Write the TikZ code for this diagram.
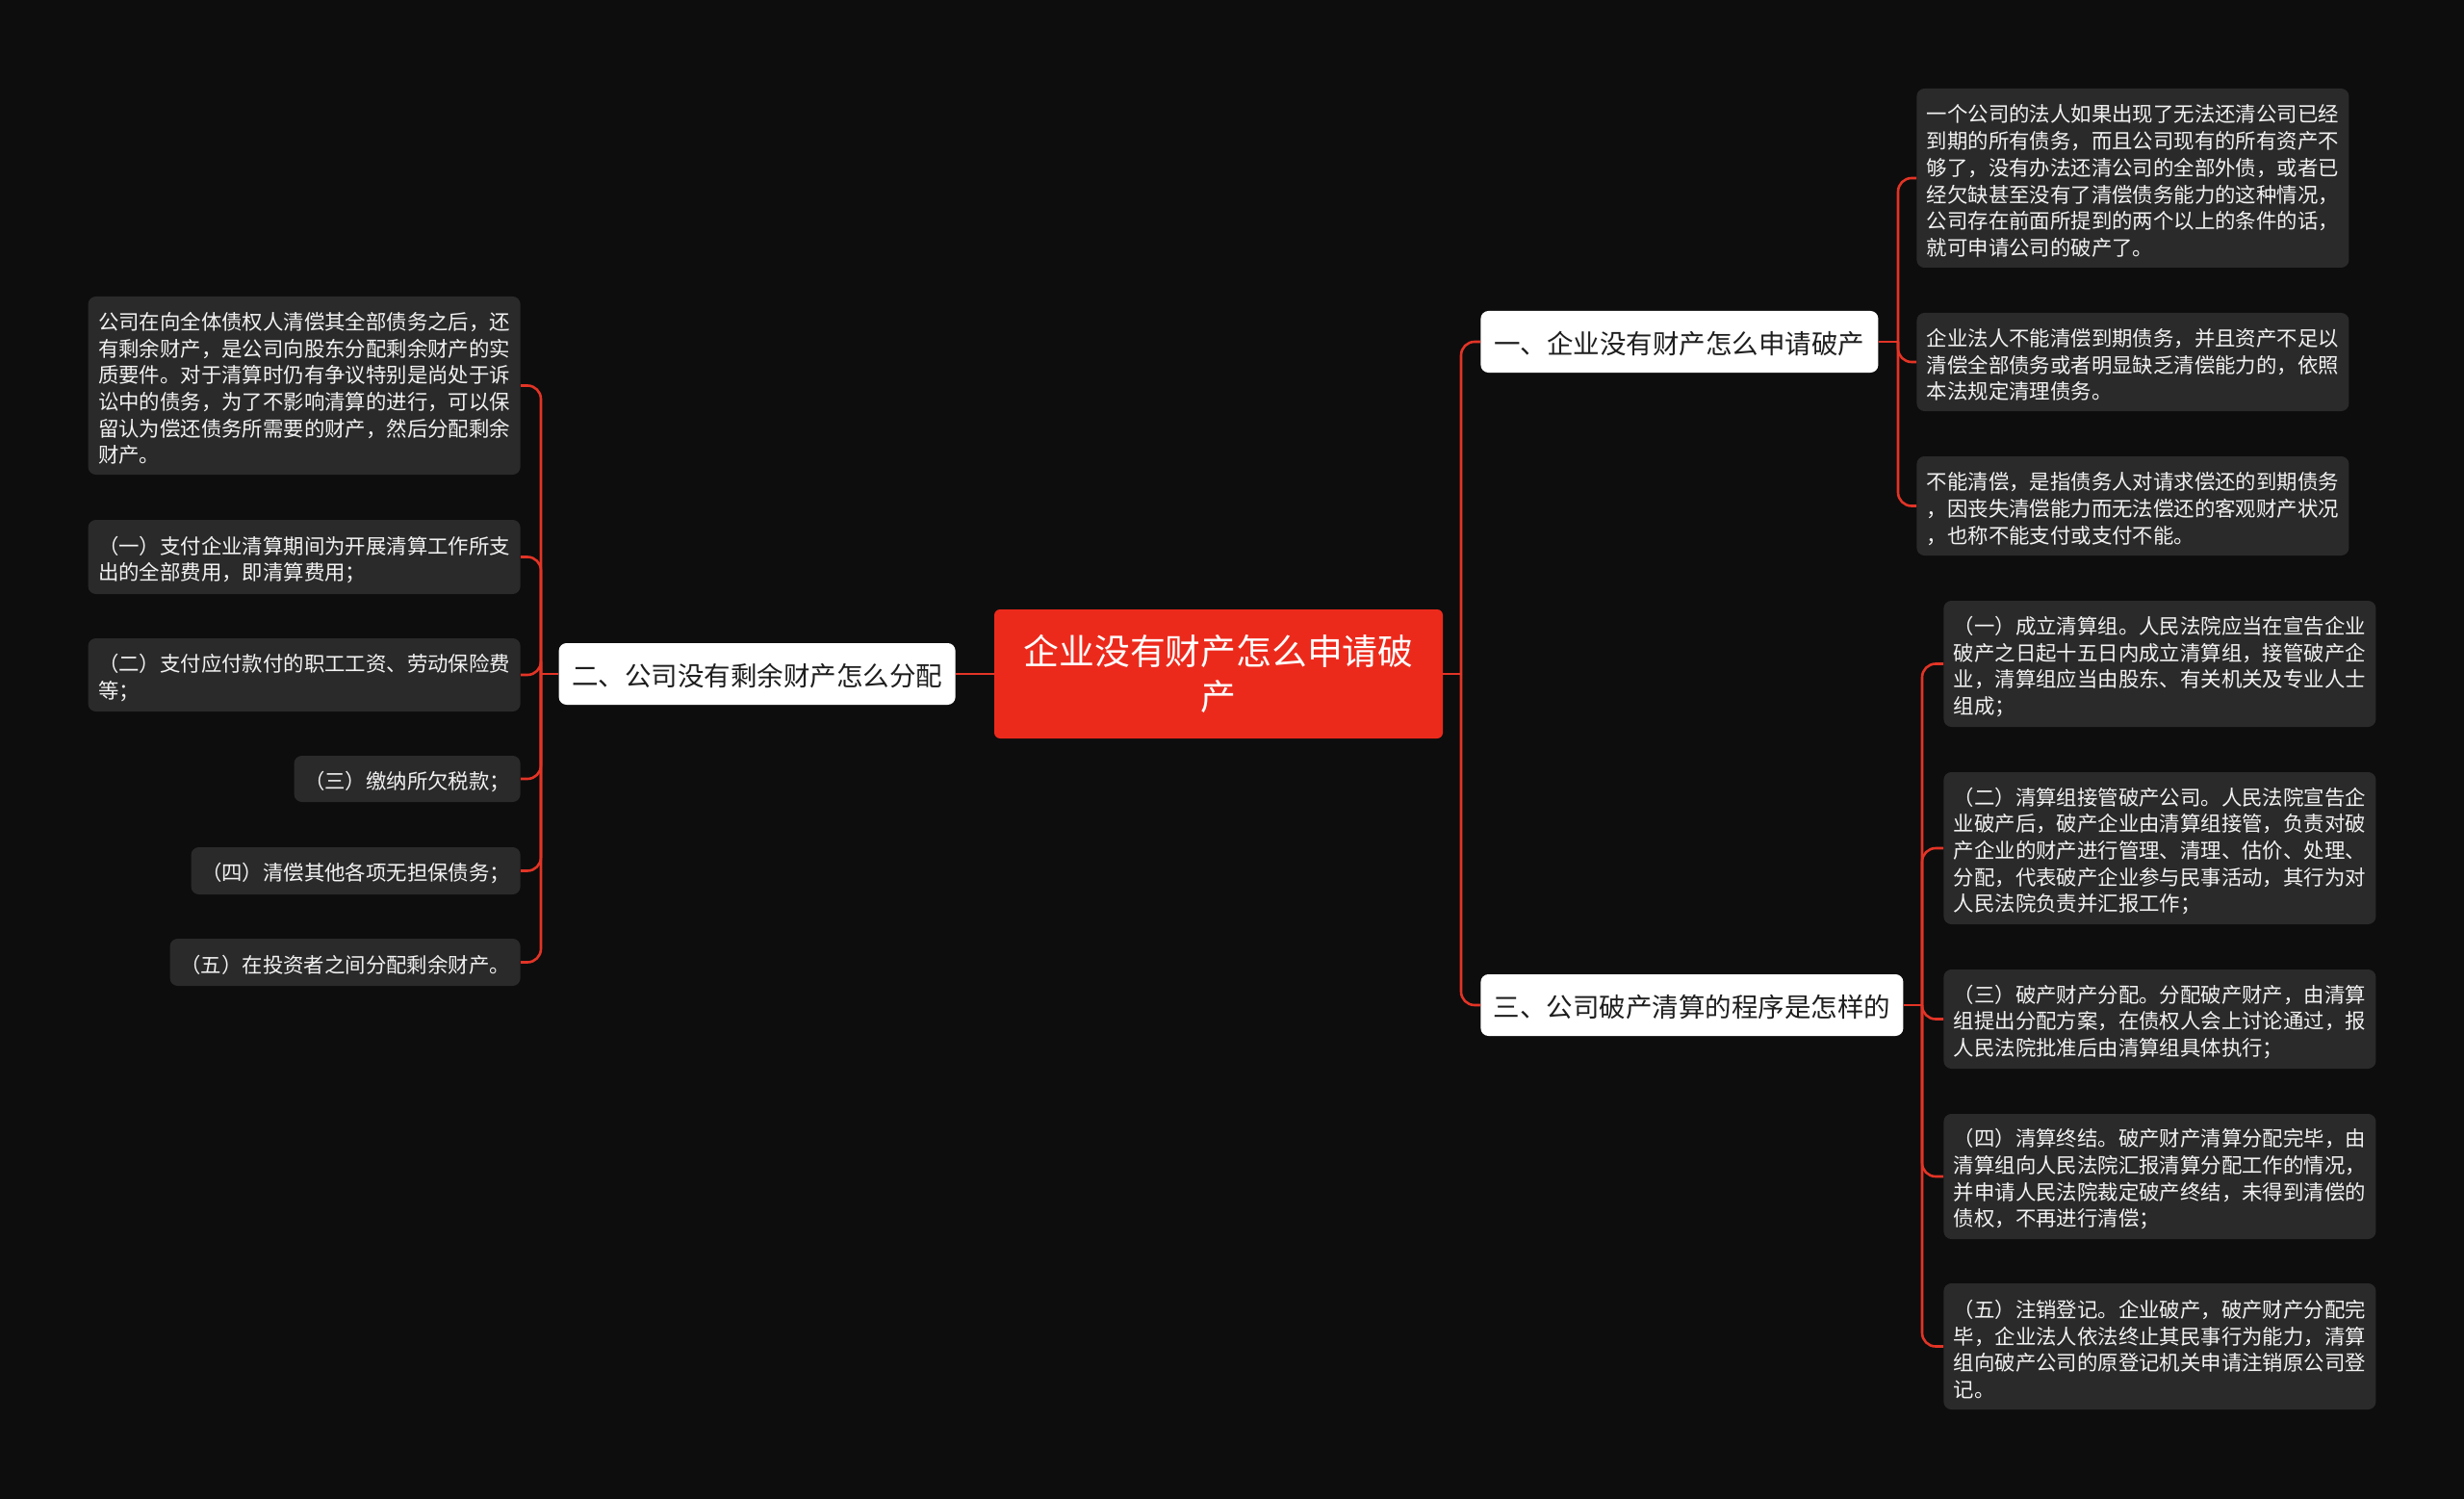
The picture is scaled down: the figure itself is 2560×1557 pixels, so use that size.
\documentclass[tikz,border=0pt]{standalone}
\usepackage{fontspec}
\newfontfamily\cjk{Noto Sans CJK SC}
\newcommand\padtop[1]{\vphantom{\raisebox{#1}{（一}}}
\definecolor{bgc}{RGB}{13,13,13}
\definecolor{rootred}{RGB}{236,42,28}
\definecolor{linered}{RGB}{226,52,38}
\definecolor{leafc}{RGB}{42,42,42}
\definecolor{leaftxt}{RGB}{242,242,242}
\definecolor{brtxt}{RGB}{30,30,30}
\tikzset{
  rootbox/.style={fill=rootred, text=white, rounded corners=3pt, inner sep=0pt,
    font=\cjk\fontsize{18.4pt}{23.6pt}\selectfont, align=center},
  brbox/.style={fill=white, text=brtxt, rounded corners=4pt, inner sep=0pt,
    font=\cjk\fontsize{13.75pt}{17pt}\selectfont, align=center, minimum height=32pt},
  leafbox/.style={fill=leafc, text=leaftxt, rounded corners=4pt, inner sep=0pt,
    font=\cjk\fontsize{10.7pt}{13.85pt}\selectfont, align=left},
  conn/.style={draw=linered, line width=1.3pt},
  rconn/.style={conn, rounded corners=7pt},
}
\begin{document}
\begin{tikzpicture}[x=0.5pt, y=-0.5pt]
\fill[bgc] (0,0) rectangle (2560,1557);
\useasboundingbox (0,0) rectangle (2560,1557);

% root
\node[rootbox, minimum width=233pt, minimum height=67pt] (root) at (1266,700)
  {企业没有财产怎么申请破\\产};

% branches
\node[brbox, minimum width=206.5pt, anchor=west] (b1) at (1538,355) {\padtop{1.5pt}一、企业没有财产怎么申请破产};
\node[brbox, minimum width=206pt, anchor=east] (b2) at (993,700) {\padtop{1.5pt}二、公司没有剩余财产怎么分配};
\node[brbox, minimum width=219.5pt, anchor=west] (b3) at (1538,1044) {\padtop{1.5pt}三、公司破产清算的程序是怎样的};

% leaves of branch 1
\node[leafbox, minimum width=224.5pt, minimum height=93pt, anchor=west] (l1a) at (1991,185)
  {\padtop{3pt}一个公司的法人如果出现了无法还清公司已经\\到期的所有债务，而且公司现有的所有资产不\\够了，没有办法还清公司的全部外债，或者已\\经欠缺甚至没有了清偿债务能力的这种情况，\\公司存在前面所提到的两个以上的条件的话，\\就可申请公司的破产了。};
\node[leafbox, minimum width=224.5pt, minimum height=51pt, anchor=west] (l1b) at (1991,376)
  {\padtop{3pt}企业法人不能清偿到期债务，并且资产不足以\\清偿全部债务或者明显缺乏清偿能力的，依照\\本法规定清理债务。};
\node[leafbox, minimum width=224.5pt, minimum height=51.5pt, anchor=west] (l1c) at (1991,525.5)
  {\padtop{3pt}不能清偿，是指债务人对请求偿还的到期债务\\，因丧失清偿能力而无法偿还的客观财产状况\\，也称不能支付或支付不能。};

% leaves of branch 3
\node[leafbox, minimum width=224.5pt, minimum height=65.5pt, anchor=west] (l3a) at (2019,689.5)
  {\padtop{3pt}（一）成立清算组。人民法院应当在宣告企业\\破产之日起十五日内成立清算组，接管破产企\\业，清算组应当由股东、有关机关及专业人士\\组成；};
\node[leafbox, minimum width=224.5pt, minimum height=79pt, anchor=west] (l3b) at (2019,881)
  {\padtop{3pt}（二）清算组接管破产公司。人民法院宣告企\\业破产后，破产企业由清算组接管，负责对破\\产企业的财产进行管理、清理、估价、处理、\\分配，代表破产企业参与民事活动，其行为对\\人民法院负责并汇报工作；};
\node[leafbox, minimum width=224.5pt, minimum height=51.5pt, anchor=west] (l3c) at (2019,1058.5)
  {\padtop{3pt}（三）破产财产分配。分配破产财产，由清算\\组提出分配方案，在债权人会上讨论通过，报\\人民法院批准后由清算组具体执行；};
\node[leafbox, minimum width=224.5pt, minimum height=65pt, anchor=west] (l3d) at (2019,1222)
  {\padtop{3pt}（四）清算终结。破产财产清算分配完毕，由\\清算组向人民法院汇报清算分配工作的情况，\\并申请人民法院裁定破产终结，未得到清偿的\\债权，不再进行清偿；};
\node[leafbox, minimum width=224.5pt, minimum height=65.5pt, anchor=west] (l3e) at (2019,1398.5)
  {\padtop{3pt}（五）注销登记。企业破产，破产财产分配完\\毕，企业法人依法终止其民事行为能力，清算\\组向破产公司的原登记机关申请注销原公司登\\记。};

% leaves of branch 2
\node[leafbox, minimum width=224.5pt, minimum height=92.5pt, anchor=east] (l2a) at (541,400.5)
  {\padtop{3pt}公司在向全体债权人清偿其全部债务之后，还\\有剩余财产，是公司向股东分配剩余财产的实\\质要件。对于清算时仍有争议特别是尚处于诉\\讼中的债务，为了不影响清算的进行，可以保\\留认为偿还债务所需要的财产，然后分配剩余\\财产。};
\node[leafbox, minimum width=224.5pt, minimum height=38.5pt, anchor=east] (l2b) at (541,578.5)
  {\padtop{3pt}（一）支付企业清算期间为开展清算工作所支\\出的全部费用，即清算费用；};
\node[leafbox, minimum width=224.5pt, minimum height=38pt, anchor=east] (l2c) at (541,701)
  {\padtop{3pt}（二）支付应付款付的职工工资、劳动保险费\\等；};
\node[leafbox, minimum width=117.5pt, minimum height=24pt, anchor=east] (l2d) at (541,809)
  {\padtop{3pt}（三）缴纳所欠税款；};
\node[leafbox, minimum width=171pt, minimum height=24.5pt, anchor=east] (l2e) at (541,904.5)
  {\padtop{3pt}（四）清偿其他各项无担保债务；};
\node[leafbox, minimum width=182pt, minimum height=24.5pt, anchor=east] (l2f) at (541,999.5)
  {\padtop{3pt}（五）在投资者之间分配剩余财产。};

% trunk coordinates
\coordinate (tr) at (1518,700);
\coordinate (tl) at (562,700);
\coordinate (t1) at (1972,355);
\coordinate (t3) at (1997,1044);

% connectors root
\draw[conn] (root.east) -- (tr);
\draw[rconn] (tr) |- (b1.west);
\draw[rconn] (tr) |- (b3.west);
\draw[conn] (root.west) -- (b2.east);

% branch 1
\draw[conn] (b1.east) -- (t1);
\draw[rconn] (t1) |- (l1a.west);
\draw[rconn] (t1) |- (l1b.west);
\draw[rconn] (t1) |- (l1c.west);

% branch 3
\draw[conn] (b3.east) -- (t3);
\draw[rconn] (t3) |- (l3a.west);
\draw[rconn] (t3) |- (l3b.west);
\draw[rconn] (t3) |- (l3c.west);
\draw[rconn] (t3) |- (l3d.west);
\draw[rconn] (t3) |- (l3e.west);

% branch 2
\draw[conn] (b2.west) -- (tl);
\draw[rconn] (tl) |- (l2a.east);
\draw[rconn] (tl) |- (l2b.east);
\draw[rconn] (tl) |- (l2c.east);
\draw[rconn] (tl) |- (l2d.east);
\draw[rconn] (tl) |- (l2e.east);
\draw[rconn] (tl) |- (l2f.east);
\end{tikzpicture}
\end{document}
